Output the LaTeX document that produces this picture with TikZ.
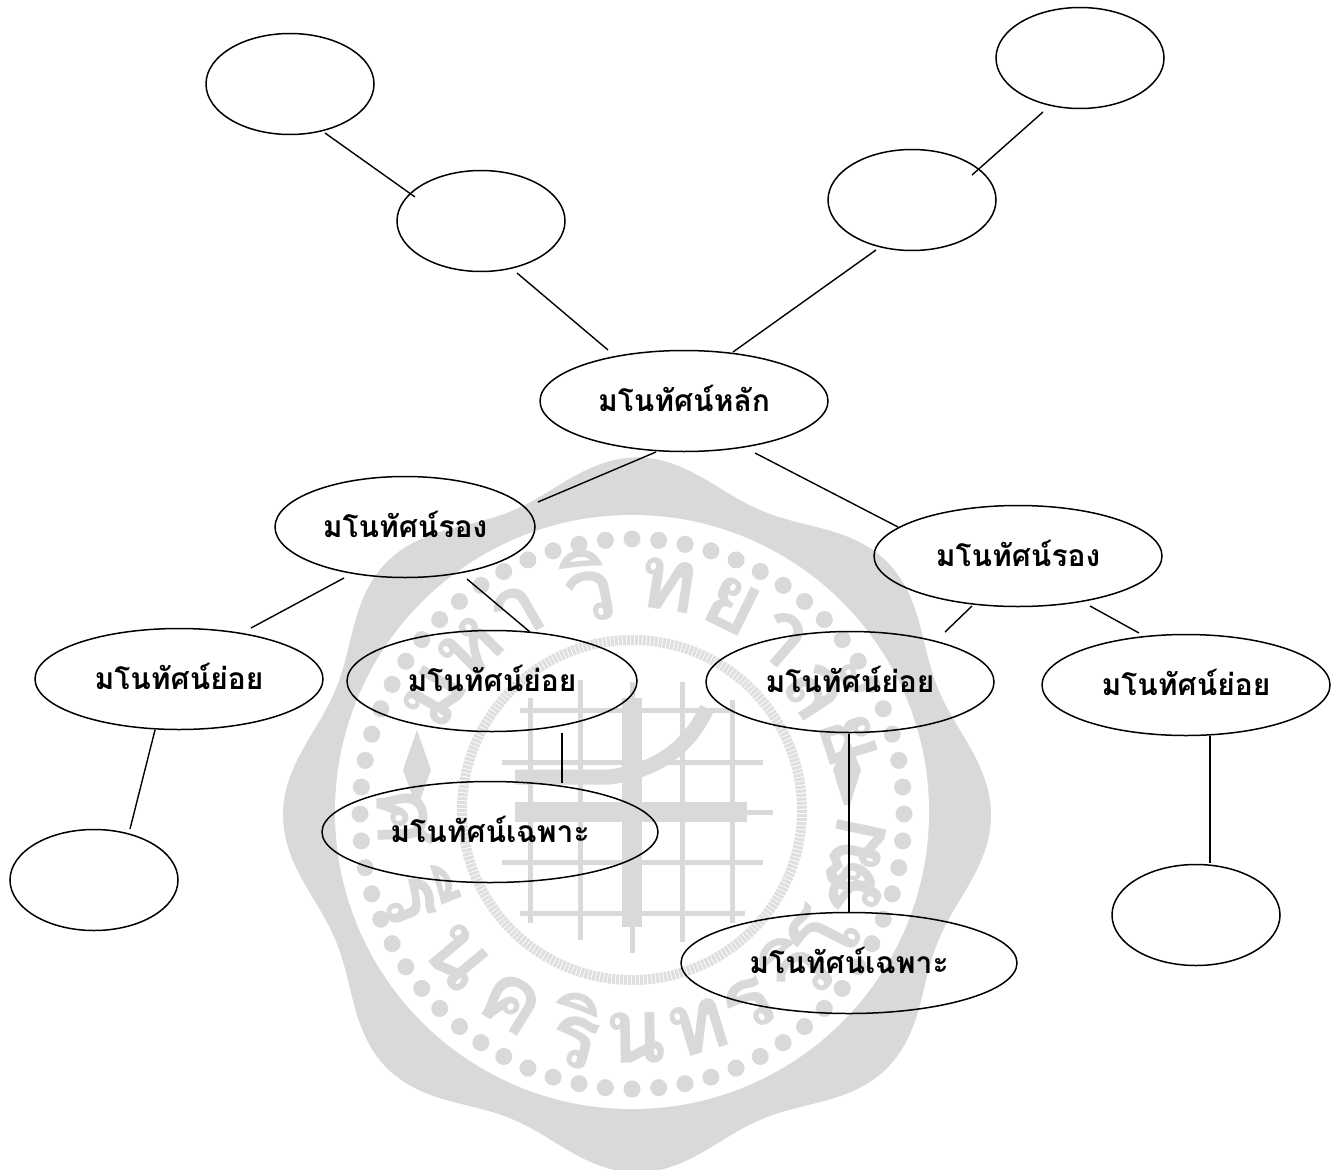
\documentclass[tikz,border=0pt]{standalone}
\usepackage{fontspec}
\newfontfamily\thaifont[Script=Thai]{Loma}
\usetikzlibrary{shapes.geometric, calc}
\definecolor{sealgray}{HTML}{D9D9D9}

\begin{document}
\begin{tikzpicture}[
		x=1pt, y=-1pt,
		idea/.style={ellipse, draw, line width=1.5pt, inner sep=0pt, minimum width=288pt, minimum height=101pt, text height=30pt, text depth=10pt, font=\thaifont\bfseries\fontsize{30}{34}\selectfont},
		blank/.style={idea, minimum width=168pt},
		narrow/.style={idea, minimum width=336pt},
		link/.style={line width=1.4pt},
		sealmark/.style={text=sealgray, inner sep=0pt, font=\thaifont\bfseries\fontsize{90}{100}\selectfont}
	]
	\clip (0, 0) rectangle (1340, 1169);

	\fill[sealgray] plot[domain=0:360, samples=241, smooth] ({637+(340+14*cos(8*\x))*cos(\x)}, {815+1.01*(340+14*cos(8*\x))*sin(\x)}) -- cycle;
	\fill[white] (632, 812) circle[radius=297];
	\foreach \a in {0, 5.625, ..., 355} {
		\fill[sealgray] ({632+272*cos(\a)}, {814+275*sin(\a)}) circle[radius=8.5];
	}
	\draw[sealgray!85, line width=10pt, dash pattern=on 3pt off 1pt] (632, 810) circle[radius=170];

	\foreach \a/\c [count=\i] in {150/ม, 135/ห, 120/า, 101/วิ, 81/ท, 64/ย, 49/า, 33/ลั, 18/ย} {
		\node[sealmark, rotate=\a-90] (top\i) at ({632+228*cos(\a)}, {810-228*sin(\a)}) {\c};
	}
	\foreach \a/\c [count=\i] in {182/ศ, 202/รี, 220/น, 238/ค, 256/ริ, 271/น, 287/ท, 301/ร, 316/วิ, 333/โร, 348/ฒ} {
		\node[sealmark, rotate=\a+90] (low\i) at ({632+228*cos(\a)}, {810-228*sin(\a)}) {\c};
	}

	\foreach \xa/\ya/\yb in {530/698/923, 580/680/940, 632/682/953, 682/682/942, 732/700/923} {
		\draw[sealgray, line width=5pt] (\xa, \ya) -- (\xa, \yb);
	}
	\foreach \ya/\xa/\xb in {710/520/730, 762/502/763, 812/515/773, 862/502/763, 913/520/745} {
		\draw[sealgray, line width=5pt] (\xa, \ya) -- (\xb, \ya);
	}
	\draw[sealgray, line width=20pt] (632, 698) -- (632, 927);
	\draw[sealgray, line width=20pt] (515, 812) -- (747, 812);
	\draw[sealgray, line width=15pt] (515, 777) -- (610, 777) .. controls (660, 770) and (690, 745) .. (707, 708);

	\fill[sealgray] (417, 730) -- (431, 770) -- (420, 800) -- (414, 800) -- (403, 770) -- cycle;
	\fill[sealgray] (847, 735) -- (861, 770) -- (850, 805) -- (844, 805) -- (833, 770) -- cycle;

	\node[idea] (main) at (684, 401) {มโนทัศน์หลัก};
	\node[idea, minimum width=260pt] (secondleft) at (405, 527) {มโนทัศน์รอง};
	\node[idea] (secondright) at (1018, 556) {มโนทัศน์รอง};
	\node[idea] (minorone) at (179, 679) {มโนทัศน์ย่อย};
	\node[idea, minimum width=290pt] (minortwo) at (492, 681) {มโนทัศน์ย่อย};
	\node[idea] (minorthree) at (850, 682) {มโนทัศน์ย่อย};
	\node[idea] (minorfour) at (1186, 685) {มโนทัศน์ย่อย};
	\node[narrow] (specialone) at (490, 832) {มโนทัศน์เฉพาะ};
	\node[narrow] (specialtwo) at (849, 963) {มโนทัศน์เฉพาะ};

	\node[blank] (topleft) at (290, 84) {};
	\node[blank] (nextleft) at (481, 221) {};
	\node[blank] (topright) at (1080, 58) {};
	\node[blank] (nextright) at (912, 200) {};
	\node[blank] (lowleft) at (94, 880) {};
	\node[blank] (lowright) at (1196, 915) {};

	\draw[link] ($(topleft)+(35, 49)$) -- ($(nextleft)+(-66, -24)$);
	\draw[link] ($(nextleft)+(36, 52)$) -- ($(main)+(-76, -51)$);
	\draw[link] ($(main)+(49, -49)$) -- ($(nextright)+(-36, 50)$);
	\draw[link] ($(nextright)+(60, -25)$) -- ($(topright)+(-37, 54)$);
	\draw[link] ($(main)+(-28, 51)$) -- ($(secondleft)+(133, -25)$);
	\draw[link] ($(main)+(71, 52)$) -- ($(secondright)+(-120, -29)$);
	\draw[link] ($(secondleft)+(-61, 51)$) -- ($(minorone)+(72, -51)$);
	\draw[link] ($(secondleft)+(62, 52)$) -- ($(minortwo)+(38, -49)$);
	\draw[link] ($(secondright)+(-46, 50)$) -- ($(minorthree)+(95, -50)$);
	\draw[link] ($(secondright)+(72, 50)$) -- ($(minorfour)+(-47, -52)$);
	\draw[link] ($(minorone)+(-24, 51)$) -- ($(lowleft)+(36, -51)$);
	\draw[link] ($(minortwo)+(70, 52)$) -- ($(specialone)+(72, -49)$);
	\draw[link, line width=1.8pt] ($(minorthree)+(-1, 52)$) -- ($(specialtwo)+(0, -51)$);
	\draw[link, line width=1.8pt] ($(minorfour)+(24, 51)$) -- ($(lowright)+(14, -52)$);
\end{tikzpicture}
\end{document}
